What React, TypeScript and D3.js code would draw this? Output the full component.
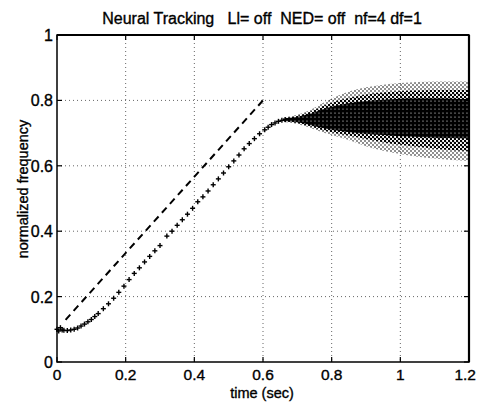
import React from "react";
import * as d3 from "d3";

const xTicks = [0, 0.2, 0.4, 0.6, 0.8, 1, 1.2];
const yTicks = [0, 0.2, 0.4, 0.6, 0.8, 1];

// reference chirp (dashed)
const refTime = [0.025, 0.6];
const refFreq = [0.129, 0.8];

// tracking estimate (+ markers)
const trackTime = [0, 0.005, 0.01, 0.015, 0.02, 0.03, 0.04, 0.05, 0.06, 0.07, 0.08, 0.09, 0.1, 0.11, 0.12, 0.135, 0.15, 0.165, 0.18, 0.195, 0.21, 0.225, 0.24, 0.255, 0.27, 0.285, 0.3, 0.32, 0.335, 0.35, 0.365, 0.38, 0.395, 0.41, 0.425, 0.44, 0.455, 0.47, 0.485, 0.5, 0.515, 0.53, 0.545, 0.56, 0.575, 0.59, 0.605, 0.615, 0.625, 0.635, 0.645, 0.655, 0.665];
const trackFreq = [0.1, 0.095, 0.105, 0.098, 0.097, 0.096, 0.098, 0.1, 0.104, 0.11, 0.116, 0.123, 0.13, 0.139, 0.148, 0.163, 0.178, 0.195, 0.213, 0.232, 0.252, 0.271, 0.288, 0.306, 0.323, 0.34, 0.356, 0.385, 0.4, 0.418, 0.435, 0.452, 0.47, 0.49, 0.505, 0.523, 0.542, 0.56, 0.578, 0.597, 0.615, 0.633, 0.652, 0.668, 0.683, 0.698, 0.71, 0.718, 0.726, 0.731, 0.736, 0.739, 0.741];

// spreading band after the chirp stops
const bandTime = [0.66, 0.7, 0.74, 0.78, 0.82, 0.86, 0.9, 0.95, 1.0, 1.05, 1.1, 1.15, 1.2];
const bandHi = [0.748, 0.756, 0.772, 0.795, 0.815, 0.83, 0.84, 0.848, 0.853, 0.856, 0.858, 0.858, 0.858];
const bandLo = [0.734, 0.728, 0.715, 0.7, 0.688, 0.675, 0.66, 0.646, 0.636, 0.628, 0.622, 0.618, 0.615];
const midHi = [0.746, 0.752, 0.766, 0.785, 0.8, 0.81, 0.818, 0.824, 0.828, 0.83, 0.832, 0.832, 0.832];
const midLo = [0.736, 0.731, 0.72, 0.707, 0.698, 0.69, 0.682, 0.672, 0.664, 0.658, 0.652, 0.648, 0.645];
const coreHi = [0.745, 0.75, 0.76, 0.775, 0.786, 0.793, 0.798, 0.802, 0.805, 0.806, 0.806, 0.805, 0.804];
const coreLo = [0.737, 0.733, 0.724, 0.714, 0.707, 0.702, 0.698, 0.694, 0.69, 0.688, 0.686, 0.685, 0.684];

const W = 477, H = 403;
const L = 57, R = 469, T = 35, B = 362;

export default function App() {
  const x = d3.scaleLinear().domain([0, 1.2]).range([L, R]);
  const y = d3.scaleLinear().domain([0, 1]).range([B, T]);
  const font = "'Liberation Sans', Arial, sans-serif";

  const refLine = d3.line<number>().x((_, i) => x(refTime[i])).y((d) => y(d))(refFreq) || "";
  const mkArea = (hi: number[], lo: number[]) =>
    d3.area<number>().x((_, i) => x(bandTime[i])).y0((_, i) => y(lo[i])).y1((d) => y(d)).curve(d3.curveMonotoneX)(hi) || "";
  const band = mkArea(bandHi, bandLo);
  const mid = mkArea(midHi, midLo);
  const core = mkArea(coreHi, coreLo);
  const ink = { stroke: "#000", strokeWidth: 0.35 };

  return (
    <svg width={W} height={H} style={{ position: "absolute", left: 0, top: 0, background: "#fff" }} fontFamily={font}>
      <defs>
        <pattern id="dotsLight" width="4" height="4" patternUnits="userSpaceOnUse">
          <circle cx="1" cy="1" r="0.8" fill="#000" />
          <circle cx="3" cy="3" r="0.8" fill="#000" />
        </pattern>
        <pattern id="dotsMid" width="4" height="4" patternUnits="userSpaceOnUse">
          <circle cx="1" cy="1" r="1.25" fill="#000" />
          <circle cx="3" cy="3" r="1.25" fill="#000" />
        </pattern>
        <pattern id="dotsDark" width="4" height="4" patternUnits="userSpaceOnUse">
          <rect width="4" height="4" fill="#000" />
          <circle cx="3" cy="1" r="0.6" fill="#fff" />
        </pattern>
      </defs>
      <rect width={W} height={H} fill="#fff" />
      {/* grid */}
      {xTicks.slice(1, -1).map((t) => (
        <line key={"gx" + t} x1={x(t)} x2={x(t)} y1={T} y2={B} stroke="#666" strokeWidth={1} strokeDasharray="1,3" />
      ))}
      {yTicks.slice(1, -1).map((t) => (
        <line key={"gy" + t} x1={L} x2={R} y1={y(t)} y2={y(t)} stroke="#666" strokeWidth={1} strokeDasharray="1,3" />
      ))}
      {/* band */}
      <path d={band} fill="url(#dotsLight)" />
      <path d={mid} fill="url(#dotsMid)" />
      <path d={core} fill="url(#dotsDark)" />
      {/* reference */}
      <path d={refLine} fill="none" stroke="#000" strokeWidth={2} strokeDasharray="7,5" />
      {/* track markers */}
      {trackFreq.map((v, i) => {
        const cx = x(trackTime[i]), cy = y(v);
        return (
          <g key={"m" + i} stroke="#000" strokeWidth={1.4}>
            <line x1={cx - 2.5} x2={cx + 2.5} y1={cy} y2={cy} />
            <line x1={cx} x2={cx} y1={cy - 2.5} y2={cy + 2.5} />
          </g>
        );
      })}
      {/* frame */}
      <rect x={L} y={T} width={R - L} height={B - T} fill="none" stroke="#000" strokeWidth={1.5} />
      <line x1={L} x2={R} y1={T} y2={T} stroke="#000" strokeWidth={2.2} />
      <line x1={R} x2={R} y1={T} y2={B} stroke="#000" strokeWidth={2.2} />
      {/* ticks */}
      {xTicks.map((t, i) => {
        const last = i === xTicks.length - 1;
        return (
          <g key={"tx" + t}>
            <line x1={x(t)} x2={x(t)} y1={B} y2={B - 5} stroke="#000" strokeWidth={1.2} />
            <line x1={x(t)} x2={x(t)} y1={T} y2={T + 5} stroke="#000" strokeWidth={1.2} />
            <text x={last ? W - 1 : x(t)} y={380} fontSize={15.5} textAnchor={last ? "end" : "middle"} fill="#000" {...ink}>{String(t)}</text>
          </g>
        );
      })}
      {yTicks.map((t) => (
        <g key={"ty" + t}>
          <line x1={L} x2={L + 5} y1={y(t)} y2={y(t)} stroke="#000" strokeWidth={1.2} />
          <line x1={R} x2={R - 5} y1={y(t)} y2={y(t)} stroke="#000" strokeWidth={1.2} />
          <text x={53} y={y(t) + 6} fontSize={16} textAnchor="end" fill="#000" {...ink}>{String(t)}</text>
        </g>
      ))}
      <text x={262} y={24} fontSize={16} textAnchor="middle" fill="#000" style={{ whiteSpace: "pre" }} {...ink}>
        {"Neural Tracking   Ll= off  NED= off  nf=4 df=1"}
      </text>
      <text x={262} y={398} fontSize={14.5} textAnchor="middle" fill="#000" {...ink}>time (sec)</text>
      <text transform={`translate(28,189) rotate(-90)`} fontSize={14.5} textAnchor="middle" fill="#000" {...ink}>normalized frequency</text>
    </svg>
  );
}
